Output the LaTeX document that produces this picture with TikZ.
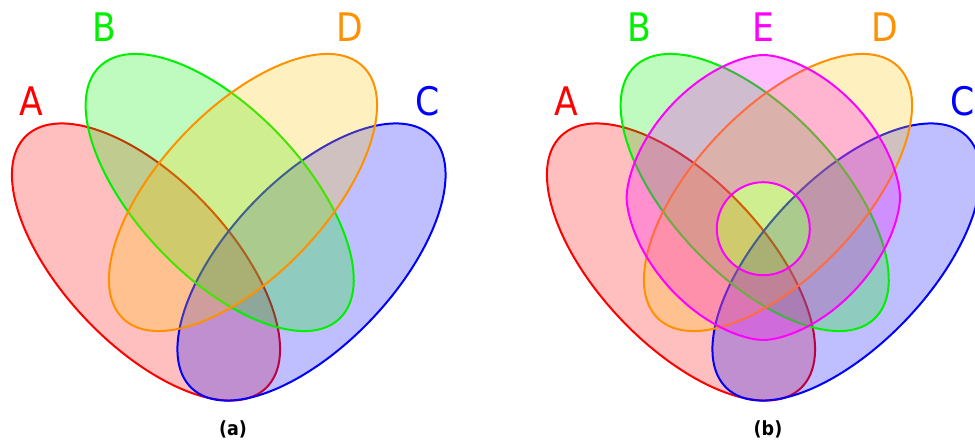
\documentclass[tikz,border=0pt]{standalone}
\usepackage{fontspec}
\usepackage{tikz}
\usetikzlibrary{positioning}
\newfontfamily\vennfont{DejaVu Sans}
\definecolor{setorange}{RGB}{255,145,0}
\definecolor{setgold}{RGB}{255,200,0}
\definecolor{setgreen}{RGB}{0,240,0}
\definecolor{setmagenta}{RGB}{255,0,255}
\tikzset{
  venn/.style={line width=1.5pt, fill opacity=0.25},
  setlabel/.style={font=\vennfont\fontsize{29.5}{30}\selectfont, inner sep=0pt, xscale=0.88},
  panelcap/.style={font=\vennfont\bfseries\fontsize{14.6}{16}\selectfont, inner sep=0pt, xscale=0.9}
}

\begin{document}
\begin{tikzpicture}[x=0.75pt, y=0.75pt]
  \useasboundingbox (0,0) rectangle (975,-446);
  \foreach \dx/\p in {0/a, 535/b} {
    \begin{scope}[shift={(\dx,0)}]
      \draw[venn, draw=red, fill=red] (146,-262) ellipse [x radius=174, y radius=83, rotate=-46.5];
      \draw[venn, draw=blue, fill=blue] (311.5,-262) ellipse [x radius=174, y radius=83, rotate=46.5];
      \draw[venn, draw=setgreen, fill=setgreen] (219.7,-192.5) ellipse [x radius=174, y radius=83, rotate=-46.5];
      \draw[venn, draw=setorange, fill=setgold] (243,-192.5) ellipse [x radius=174, y radius=83, rotate=46.5];
      \node[setlabel, text=red] (labA\p) at (31,-101.5) {A};
      \node[setlabel, text=setgreen] (labB\p) at (104,-26.7) {B};
      \node[setlabel, text=setorange] (labD\p) at (350,-26.7) {D};
      \node[setlabel, text=blue] (labC\p) at (427.5,-101.5) {C};
      \node[panelcap] (cap\p) at (233,-429.5) {(\p)};
    \end{scope}
  }
  \draw[venn, draw=setmagenta, fill=setmagenta, even odd rule]
    plot[domain=1.5:358.5, samples=120, smooth cycle]
      ({763.3+136.7*sign(cos(\x))*abs(cos(\x))^1.2}, {-197.5+142.5*sign(sin(\x))*abs(sin(\x))^1.2})
    (763.3,-228.7) circle [radius=46.5];
  \node[setlabel, text=setmagenta] (labE) at (763,-26.7) {E};
\end{tikzpicture}
\end{document}
